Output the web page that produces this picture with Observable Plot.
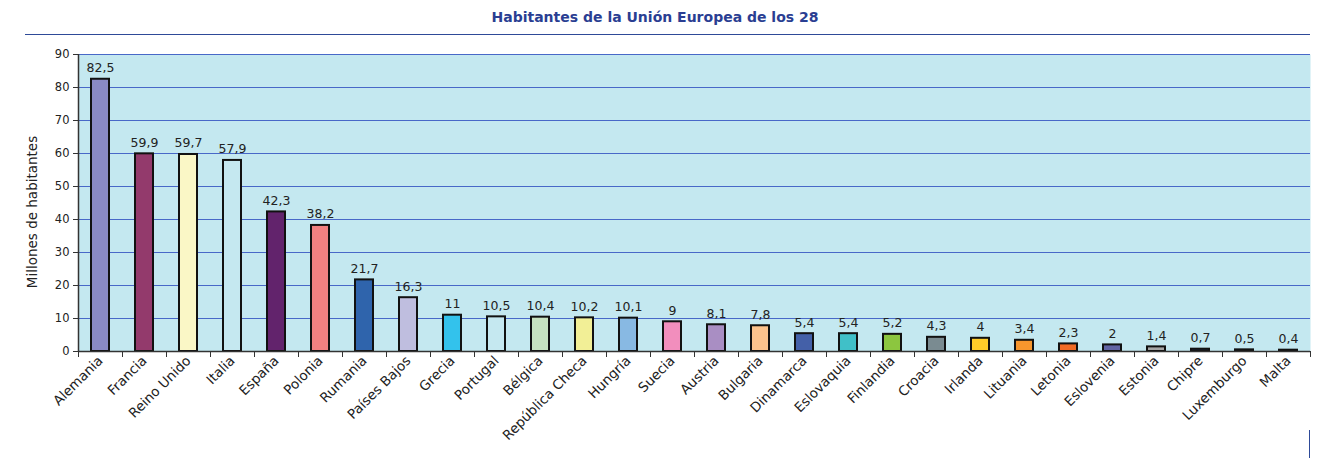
<!DOCTYPE html>
<html>
<head>
<meta charset="utf-8">
<script src="https://cdn.jsdelivr.net/npm/d3@7"></script>
<script src="https://cdn.jsdelivr.net/npm/@observablehq/plot@0.6"></script>
<style>
  html, body { margin: 0; padding: 0; background: #fff; width: 1325px; height: 458px; overflow: hidden; }
  #wrap { position: relative; width: 1325px; height: 458px; }
  #title { position: absolute; left: 0; top: 0; width: 1325px; height: 35px; }
  #title .t { position: absolute; left: 0; width: 1310px; top: 9px; text-align: center;
    font-family: "DejaVu Sans", Verdana, sans-serif; font-weight: bold; font-size: 14px; color: #2a3e92; }
  #title .line { position: absolute; left: 25px; width: 1285px; top: 34px; height: 0; border-top: 1.5px solid #2e4a98; }
  #chart { position: absolute; left: 0; top: 35px; }
  #vline { position: absolute; left: 1309px; top: 430px; width: 0; height: 28px; border-left: 1.5px solid #2e4a98; }
</style>
</head>
<body>
<div id="wrap">
  <div id="title"><div class="t">Habitantes de la Unión Europea de los 28</div><div class="line"></div></div>
  <div id="chart"></div>
  <div id="vline"></div>
</div>
<script>
const countries = ["Alemania","Francia","Reino Unido","Italia","España","Polonia","Rumania","Países Bajos","Grecia","Portugal","Bélgica","República Checa","Hungría","Suecia","Austria","Bulgaria","Dinamarca","Eslovaquia","Finlandia","Croacia","Irlanda","Lituania","Letonia","Eslovenia","Estonia","Chipre","Luxemburgo","Malta"];
const values = [82.5,59.9,59.7,57.9,42.3,38.2,21.7,16.3,11,10.5,10.4,10.2,10.1,9,8.1,7.8,5.4,5.4,5.2,4.3,4,3.4,2.3,2,1.4,0.7,0.5,0.4];
const colors = ["#8a8ac4","#933a6c","#faf7c6","#c5e8f0","#62236c","#f08080","#2f64ac","#bfbedf","#33c2ec","#c5e8f0","#c6e2c0","#f2ef96","#88b9e3","#f28ebd","#a98ec3","#fbc28c","#4460a8","#40c0c8","#8cc63f","#7a8b91","#ffcc29","#f7962d","#f26b25","#6163a3","#a6a6a6","#1b2a4a","#1a1a1a","#111111"];
const yTicks = [0,10,20,30,40,50,60,70,80,90];

const data = countries.map((c, i) => ({country: c, value: values[i], color: colors[i]}));
const fmt = v => String(v).replace(".", ",");

const W = 1325, H = 423;
const mL = 78, mR = 15;
const bandW = (W - mL - mR) / countries.length;

const chart = Plot.plot({
  width: W,
  height: H,
  marginTop: 19,
  marginBottom: 107,
  marginLeft: mL,
  marginRight: mR,
  style: {fontFamily: "'DejaVu Sans', Verdana, sans-serif", fontSize: "12px", color: "#222", background: "transparent"},
  x: {domain: countries, paddingInner: 0.6, paddingOuter: 0.3, label: null},
  y: {domain: [0, 90], ticks: yTicks, label: null},
  marks: [
    Plot.frame({fill: "#c4e8f0", stroke: null}),
    Plot.gridY(yTicks, {stroke: "#4868c8", strokeOpacity: 1, strokeWidth: 1}),
    Plot.barY(data, {x: "country", y: "value", fill: "color", stroke: "#111", strokeWidth: 2}),
    Plot.text(data, {x: "country", y: "value", text: d => fmt(d.value), dy: -11, fontSize: 12.5, fill: "#222"}),
    Plot.ruleY([0], {stroke: "#333", strokeWidth: 1.5}),
    Plot.axisY(yTicks, {anchor: "left", tickSize: 5, tickPadding: 4, fontSize: 11.5, stroke: "#333", fill: "#222", label: null}),
    Plot.ruleX([countries[0]], {dx: -bandW / 2, stroke: "#333", strokeWidth: 1.5, y1: 0, y2: 90}),
    Plot.axisX({tickSize: 6, tickFormat: () => "", dx: -bandW / 2, stroke: "#333", label: null}),
    Plot.ruleX([countries[countries.length - 1]], {dx: bandW / 2, stroke: "#333", strokeWidth: 1, y1: 0, y2: -1.8}),
    Plot.axisX({tickSize: 0, tickRotate: -45, tickPadding: 7, fontSize: 13.5, fill: "#222", label: null}),
    Plot.text(["Millones de habitantes"], {frameAnchor: "left", textAnchor: "middle", dx: -46, dy: 9, rotate: -90, fontSize: 13.5, fill: "#222"})
  ]
});
document.getElementById("chart").appendChild(chart);
</script>
</body>
</html>
